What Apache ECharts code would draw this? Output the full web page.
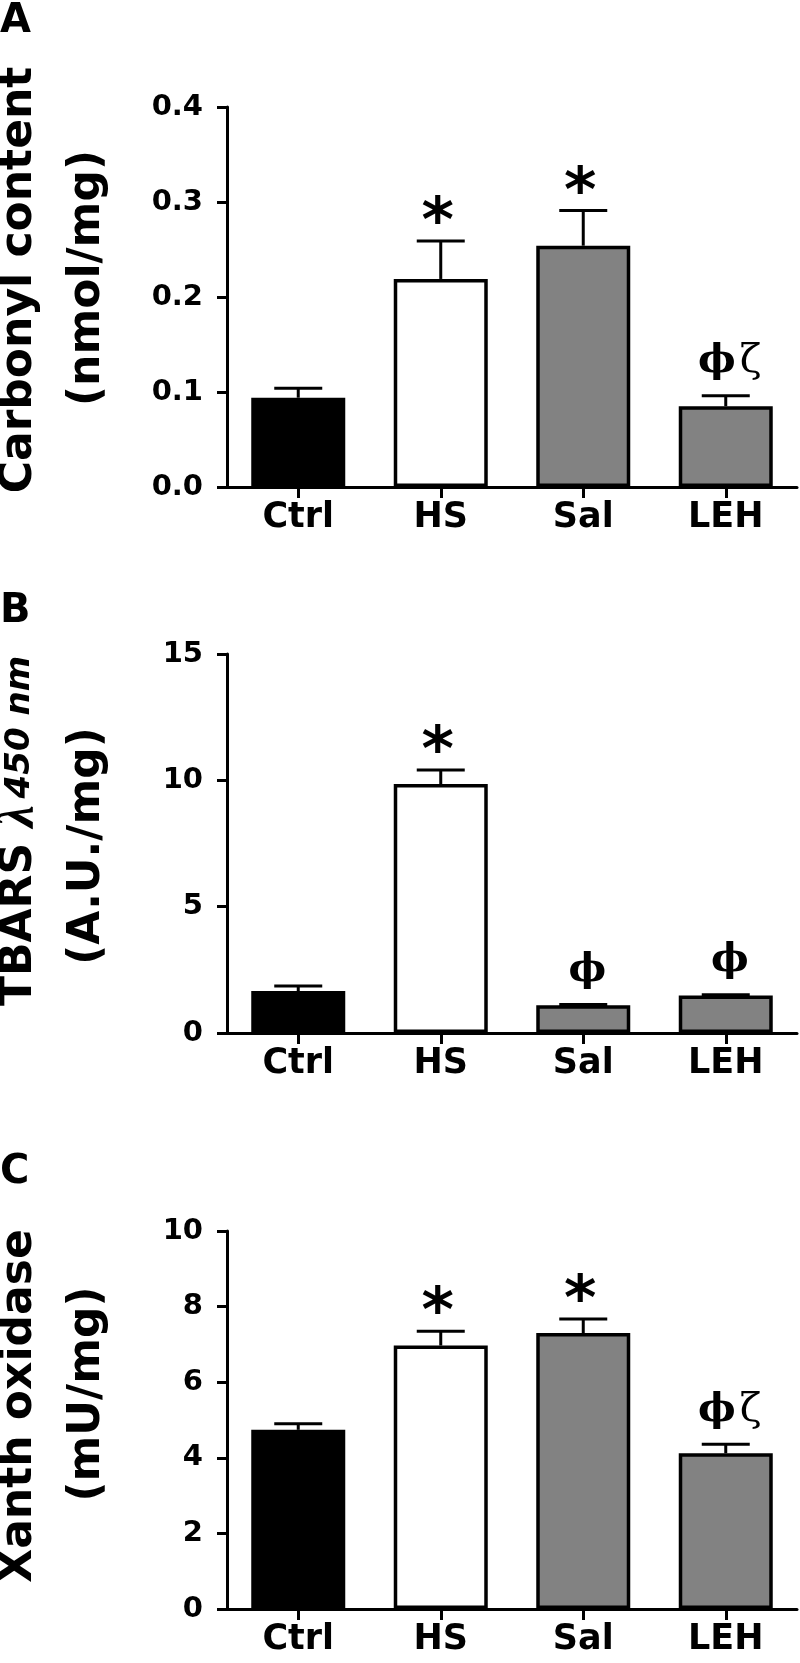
<!DOCTYPE html>
<html><head><meta charset="utf-8">
<script src="https://cdn.jsdelivr.net/npm/echarts@6/dist/echarts.min.js"></script>
<style>html,body{margin:0;padding:0;background:#fff}#c{width:800px;height:1663px}</style>
</head><body><div id="c"></div>
<script>
// ---------- data ----------
const categories = ['Ctrl', 'HS', 'Sal', 'LEH'];
const barColors = ['#000000', '#ffffff', '#828282', '#828282'];

const carbonylMean = [0.094, 0.219, 0.254, 0.085];
const carbonylSem  = [0.010, 0.040, 0.037, 0.011];
const carbonylSig  = ['', '*', '*', 'ϕζ'];
const carbonylTicks = [0.0, 0.1, 0.2, 0.3, 0.4];

const tbarsMean = [1.66, 9.85, 1.10, 1.48];
const tbarsSem  = [0.20, 0.56, 0.03, 0.03];
const tbarsSig  = ['', '*', 'ϕ', 'ϕ'];
const tbarsTicks = [0, 5, 10, 15];

const xoMean = [4.74, 6.97, 7.30, 4.12];
const xoSem  = [0.16, 0.38, 0.37, 0.24];
const xoSig  = ['', '*', '*', 'ϕζ'];
const xoTicks = [0, 2, 4, 6, 8, 10];

const panelLetters = ['A', 'B', 'C'];
const titleA = ['Carbonyl content', '(nmol/mg)'];
const titleB = ['{a|TBARS }{l|λ}{s|450 nm}', '(A.U./mg)'];
const titleC = ['Xanth oxidase', '(mU/mg)'];

// ---------- chart ----------
const FONT = '"DejaVu Sans", sans-serif';
const grids = [
  {left: 227, right: 3, top: 107, height: 380},
  {left: 227, right: 3, top: 654, height: 379},
  {left: 227, right: 3, top: 1231, height: 378}
];
const panels = [
  {mean: carbonylMean, sem: carbonylSem, sig: carbonylSig, ticks: carbonylTicks, dec: 1},
  {mean: tbarsMean, sem: tbarsSem, sig: tbarsSig, ticks: tbarsTicks, dec: 0},
  {mean: xoMean, sem: xoSem, sig: xoSig, ticks: xoTicks, dec: 0}
];

function errRender(sig) {
  return function (params, api) {
    const i = api.value(0), v = api.value(1), e = api.value(2);
    const base = api.coord([i, v]);
    const top = api.coord([i, v + e]);
    const hw = 24;
    const children = [
      {type: 'line', shape: {x1: base[0], y1: base[1], x2: top[0], y2: top[1]}, style: {stroke: '#000', lineWidth: 3}},
      {type: 'line', shape: {x1: top[0] - hw, y1: top[1], x2: top[0] + hw, y2: top[1]}, style: {stroke: '#000', lineWidth: 3}}
    ];
    const s = sig[params.dataIndex];
    if (s === '*') {
      children.push({type: 'text', x: top[0] - 3, y: top[1] - 16,
        style: {text: '*', font: 'bold 62px "DejaVu Sans"', fill: '#000', align: 'center', verticalAlign: 'middle'}});
    } else if (s) {
      const rt = s.split('').map((c, k) => (k === 0 ? '{p|' : '{z|') + c + '}').join('');
      children.push({type: 'text', x: top[0] + 4, y: top[1] - 34,
        style: {text: rt, fill: '#000', align: 'center', verticalAlign: 'middle',
          rich: {p: {font: 'bold 40px "DejaVu Serif"', fill: '#000'},
                 z: {font: '40px "DejaVu Serif"', fill: '#000', padding: [0, 0, 0, 4]}}}});
    }
    return {type: 'group', children};
  };
}

const xAxes = [], yAxes = [], series = [];
panels.forEach((p, g) => {
  const t = p.ticks;
  xAxes.push({
    type: 'category', gridIndex: g, data: categories,
    axisLine: {lineStyle: {color: '#000', width: 3}},
    axisTick: {show: true, alignWithLabel: true, length: 11, lineStyle: {color: '#000', width: 3}},
    axisLabel: {fontFamily: FONT, fontWeight: 'bold', fontSize: 35, color: '#000', margin: 13}
  });
  yAxes.push({
    type: 'value', gridIndex: g, min: t[0], max: t[t.length - 1], interval: t[1] - t[0],
    axisLine: {show: true, lineStyle: {color: '#000', width: 3}},
    axisTick: {show: true, length: 10, lineStyle: {color: '#000', width: 3}},
    splitLine: {show: false},
    axisLabel: {fontFamily: FONT, fontWeight: 'bold', fontSize: 29, color: '#000', margin: 24,
      formatter: v => v.toFixed(p.dec)}
  });
  series.push({
    type: 'bar', xAxisIndex: g, yAxisIndex: g, barWidth: 94, silent: true,
    data: p.mean.map((v, i) => ({value: v, itemStyle: {color: barColors[i]}})),
    itemStyle: {borderColor: '#000', borderWidth: 3.5}
  });
  series.push({
    type: 'custom', xAxisIndex: g, yAxisIndex: g, silent: true, z: 5,
    data: p.mean.map((v, i) => [i, v, p.sem[i]]),
    encode: {x: 0, y: 1},
    renderItem: errRender(p.sig)
  });
});

function vtext(x, y, text, extra) {
  return {type: 'text', x: x, y: y, rotation: Math.PI / 2,
    style: Object.assign({text: text, font: 'bold 44px ' + FONT, fill: '#000', align: 'center', verticalAlign: 'middle'}, extra || {})};
}
const letterY = [21.5, 612, 1172.5];
const graphic = [];
panelLetters.forEach((L, k) => graphic.push({type: 'text', x: 0, y: letterY[k],
  style: {text: L, font: 'bold 40px ' + FONT, fill: '#000', align: 'left', verticalAlign: 'middle'}}));
graphic.push(vtext(20, 280, titleA[0]));
graphic.push(vtext(88, 278, titleA[1]));
graphic.push(vtext(20, 831, titleB[0], {rich: {
  a: {font: 'bold 44px ' + FONT, fill: '#000'},
  l: {font: 'italic bold 50px "Liberation Serif"', fill: '#000', padding: [0, 7, 0, 0]},
  s: {font: 'bold italic 34px ' + FONT, fill: '#000'}}}));
graphic.push(vtext(88, 846, titleB[1]));
graphic.push(vtext(20, 1406, titleC[0]));
graphic.push(vtext(88, 1394, titleC[1]));

const chart = echarts.init(document.getElementById('c'), null, {renderer: 'canvas'});
chart.setOption({
  animation: false,
  backgroundColor: '#fff',
  grid: grids,
  xAxis: xAxes,
  yAxis: yAxes,
  series: series,
  graphic: graphic
});
</script></body></html>
